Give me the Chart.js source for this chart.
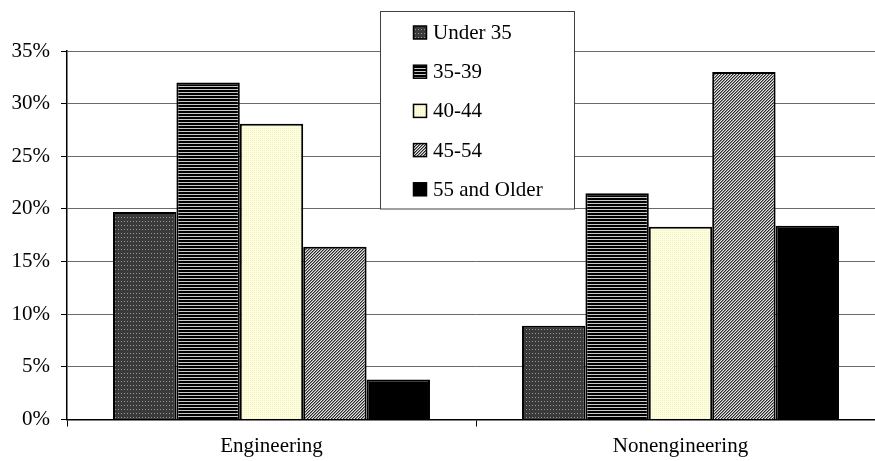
<!DOCTYPE html>
<html><head><meta charset="utf-8">
<script src="https://cdn.jsdelivr.net/npm/chart.js@4/dist/chart.umd.min.js"></script>
<style>
html,body{margin:0;padding:0;background:#fff;overflow:hidden}
#wrap{width:875px;height:461px;overflow:hidden;position:relative;background:#fff}
canvas{position:absolute;left:0;top:0}
</style></head><body>
<div id="wrap"><canvas id="c" width="890" height="461"></canvas></div>
<script>
// Share of workforce by age group
const categories = ['Engineering', 'Nonengineering'];
const seriesNames = ['Under 35', '35-39', '40-44', '45-54', '55 and Older'];
const under35 = [19.7, 8.9];
const age35to39 = [32.0, 21.5];
const age40to44 = [28.1, 18.3];
const age45to54 = [16.4, 33.0];
const age55plus = [3.8, 18.4];
const yTickValues = [0, 5, 10, 15, 20, 25, 30, 35];

const FONT = '"Liberation Serif", "Times New Roman", serif';

// small repeating tiles used as bar fills
function tile(w, h, draw) {
  const c = document.createElement('canvas');
  c.width = w; c.height = h;
  const g = c.getContext('2d');
  draw(g);
  return g.createPattern(c, 'repeat');
}
const dotted = tile(3, 4, g => {
  g.fillStyle = '#3a3a3a'; g.fillRect(0, 0, 3, 4);
  g.fillStyle = '#9a9a9a'; g.fillRect(1, 1, 1, 1);
});
const striped = tile(1, 3, g => {
  g.fillStyle = '#000'; g.fillRect(0, 0, 1, 3);
  g.fillStyle = '#c8c8c8'; g.fillRect(0, 2, 1, 1);
});
const paleYellow = tile(2, 2, g => {
  g.fillStyle = '#ffffe0'; g.fillRect(0, 0, 2, 2);
  g.fillStyle = '#f1f1c6'; g.fillRect(0, 0, 1, 1);
});
const hatched = tile(3, 3, g => {
  g.fillStyle = '#e6e6e6'; g.fillRect(0, 0, 3, 3);
  g.fillStyle = '#2a2a2a';
  for (let i = 0; i < 3; i++) g.fillRect(i, 2 - i, 1, 1);
  g.fillStyle = '#8a8a8a';
  for (let i = 0; i < 3; i++) g.fillRect((i + 1) % 3, 2 - i, 1, 1);
});
const fills = [dotted, striped, paleYellow, hatched, '#000'];
const values = [under35, age35to39, age40to44, age45to54, age55plus];

// boxed legend floating over the top middle of the plot
const legendBox = {
  id: 'legendBox',
  afterDraw(chart) {
    const ctx = chart.ctx;
    const bx = 380.5, by = 11.5, bw = 194, bh = 197.5;
    ctx.save();
    ctx.fillStyle = '#fff';
    ctx.fillRect(bx, by, bw, bh);
    ctx.strokeStyle = '#404040';
    ctx.lineWidth = 1;
    ctx.strokeRect(bx, by, bw, bh);
    ctx.font = '21px ' + FONT;
    ctx.textBaseline = 'middle';
    chart.data.datasets.forEach((ds, i) => {
      const cy = 32.5 + i * 39.2;
      ctx.fillStyle = ds.backgroundColor;
      ctx.fillRect(413.5, cy - 6.5, 13, 13);
      ctx.strokeStyle = '#000';
      ctx.lineWidth = 1.5;
      ctx.strokeRect(413.5, cy - 6.5, 13, 13);
      ctx.fillStyle = '#000';
      ctx.fillText(ds.label, 433, cy + 1);
    });
    ctx.restore();
  }
};

new Chart(document.getElementById('c'), {
  type: 'bar',
  data: {
    labels: categories,
    datasets: seriesNames.map((name, i) => ({
      label: name,
      data: values[i],
      backgroundColor: fills[i],
      borderColor: '#000',
      borderWidth: 2,
      barPercentage: 1,
      categoryPercentage: 0.775
    }))
  },
  options: {
    responsive: false,
    animation: false,
    devicePixelRatio: 1,
    layout: { padding: { left: 0, right: 5, top: 51, bottom: 0 } },
    plugins: { legend: { display: false }, tooltip: { enabled: false } },
    scales: {
      x: {
        offset: true,
        grid: { offset: true, drawOnChartArea: false, drawTicks: true, tickLength: 7, color: '#000', lineWidth: 1 },
        border: { color: '#000', width: 1.5 },
        ticks: { color: '#000', font: { family: FONT, size: 21 }, padding: 7, maxRotation: 0 },
        afterFit(s) { s.height = 41.5; }
      },
      y: {
        min: 0, max: 35,
        afterBuildTicks(s) { s.ticks = yTickValues.map(v => ({ value: v })); },
        grid: { color: '#6a6a6a', lineWidth: 1, tickColor: '#000', tickLength: 6 },
        border: { color: '#000', width: 1.5 },
        ticks: { color: '#000', font: { family: FONT, size: 21 }, padding: 11, callback: v => v + '%' },
        afterFit(s) { s.width = 67; }
      }
    }
  },
  plugins: [legendBox]
});
</script>
</body></html>
